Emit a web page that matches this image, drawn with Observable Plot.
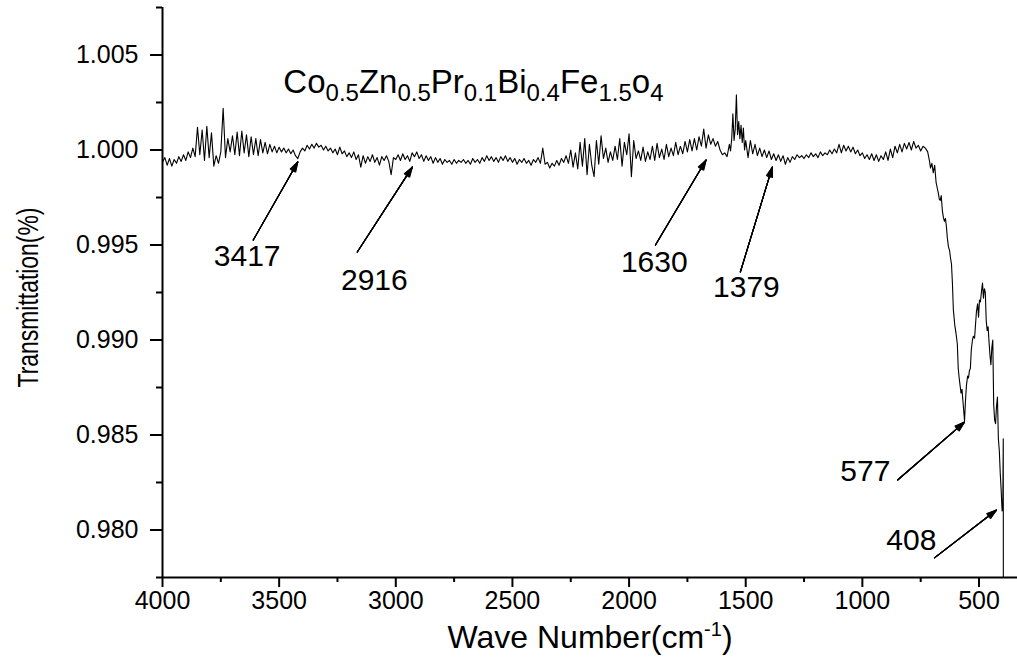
<!DOCTYPE html>
<html><head><meta charset="utf-8">
<script src="https://cdn.jsdelivr.net/npm/d3@7"></script>
<script src="https://cdn.jsdelivr.net/npm/@observablehq/plot@0.6"></script>
<style>body{margin:0;background:#fff}#chart svg{display:block}</style>
</head><body><div id="chart"></div>
<script>
// Wave numbers (cm^-1) and transmittance
const waveNumbers = [
 4000,3990,3980,3970,3960,3950,3940,3930,3920,3910,3900,3890,3880,
 3870,3860,3850,3840,3830,3820,3810,3800,3790,3780,3770,3760,3750,3740,3730,3720,3710,3700,
 3690,3680,3670,3660,3650,3640,3630,3620,3610,3600,3590,3580,3570,3560,3550,3540,3530,3520,3510,3500,
 3490,3480,3470,3460,3450,3440,3430,3420,3410,3400,3390,3380,3370,3360,3350,3340,3330,3320,3310,3300,
 3290,3280,3270,3260,3250,3240,3230,3220,3210,3200,3190,3180,3170,3160,3150,3140,3130,3120,3110,3100,
 3090,3080,3070,3060,3050,3040,3030,3020,3010,3000,
 2990,2980,2970,2960,2950,2940,2930,2920,2910,2900,2890,2880,2870,2860,2850,2840,2830,2820,2810,2800,
 2790,2780,2770,2760,2750,2740,2730,2720,2710,2700,
 2690,2680,2670,2660,2650,2640,2630,2620,2610,2600,2590,2580,2570,2560,2550,2540,2530,2520,2510,2500,
 2490,2480,2470,2460,2450,2440,2430,2420,2410,2400,2390,2380,2370,2360,2350,2340,2330,2320,2310,2300,
 2290,2280,2270,2260,2250,
 2240,2230,2220,2210,2200,2190,2180,2170,2160,2150,2140,2130,2120,2110,2100,2090,2080,2070,2060,2050,
 2040,2030,2020,2010,2000,1990,1980,1970,1960,1950,1940,1930,1920,1910,1900,1890,1880,1870,1860,1850,
 1840,1830,1820,1810,1800,1790,1780,1770,1760,1750,1740,1730,1720,1710,1700,1690,1680,1670,1660,1650,
 1640,1630,1620,1610,1600,1590,1580,
 1570,1565,1560,1555,1550,1545,1540,1535,1530,1525,1520,1515,1510,1505,1500,
 1490,1480,1470,1460,1450,1440,1430,1420,1410,1400,1390,1380,1370,1360,1350,1340,1330,1320,1310,1300,
 1290,1280,1270,1260,1250,1240,1230,1220,1210,1200,1190,1180,1170,1160,1150,1140,1130,1120,1110,1100,
 1090,1080,1070,1060,1050,1040,1030,1020,1010,1000,990,980,970,960,950,940,930,920,910,900,
 890,880,870,860,850,840,830,820,810,800,790,780,770,760,750,740,730,
 720,712,708,702,696,690,684,679,674,670,666,662,657,652,648,644,640,636,631,626,
 622,618,614,610,604,598,593,589,585,581,577,573,569,565,562,558,554,549,545,541,
 537,533,528,524,519,515,511,506,502,498,494,489,485,481,477,473,469,465,461,457,
 453,449,445,441,437,433,429,425,421,417,413,409,405,401,398,396,395
];
const transmittance = [
 0.99935,0.99960,0.99920,0.99955,0.99915,0.99950,0.99930,0.99965,0.99940,0.99975,0.99945,0.99990,0.99960,
 1.00010,0.99965,1.00120,0.99975,1.00105,0.99945,1.00125,0.99960,1.00090,0.99915,0.99970,0.99930,0.99990,1.00220,0.99960,1.00060,0.99990,1.00075,
 0.99975,1.00095,0.99970,1.00100,0.99985,1.00080,0.99965,1.00070,0.99975,1.00060,0.99970,1.00055,0.99985,1.00040,0.99980,1.00030,0.99990,1.00020,0.99985,1.00015,
 0.99990,1.00010,0.99985,1.00005,0.99980,1.00000,0.99970,0.99955,0.99990,1.00010,0.99995,1.00025,1.00005,1.00030,1.00010,1.00035,1.00015,1.00025,1.00000,1.00020,
 0.99995,1.00010,0.99985,1.00005,0.99975,1.00015,0.99980,0.99995,0.99965,0.99985,0.99960,0.99990,0.99950,0.99975,0.99910,0.99970,0.99930,0.99965,0.99940,0.99975,
 0.99935,0.99960,0.99920,0.99965,0.99945,0.99970,0.99940,0.99870,0.99960,0.99950,
 0.99975,0.99945,0.99980,0.99950,0.99970,0.99940,0.99985,0.99965,0.99990,0.99955,0.99975,0.99940,0.99970,0.99945,0.99965,0.99930,0.99960,0.99935,0.99955,0.99925,
 0.99950,0.99935,0.99945,0.99925,0.99950,0.99930,0.99945,0.99935,0.99950,0.99930,
 0.99945,0.99925,0.99955,0.99935,0.99950,0.99930,0.99960,0.99940,0.99970,0.99945,0.99965,0.99940,0.99960,0.99935,0.99965,0.99945,0.99970,0.99940,0.99960,0.99935,
 0.99955,0.99925,0.99950,0.99935,0.99955,0.99930,0.99945,0.99920,0.99950,0.99935,0.99960,0.99930,1.00010,0.99925,0.99935,0.99905,0.99930,0.99915,0.99945,0.99920,
 0.99955,0.99935,0.99970,0.99930,1.00000,
 0.99910,0.99985,0.99900,1.00040,0.99915,1.00060,0.99870,1.00030,0.99920,0.99860,1.00050,0.99925,1.00075,0.99955,1.00010,0.99935,0.99990,0.99945,1.00020,0.99950,
 1.00060,0.99915,1.00040,0.99975,1.00085,0.99860,1.00050,0.99955,0.99995,0.99945,1.00015,0.99940,0.99990,0.99950,1.00020,0.99945,1.00035,0.99960,1.00005,0.99950,
 1.00030,0.99965,1.00010,0.99970,1.00040,0.99975,1.00020,0.99980,1.00045,0.99990,1.00055,0.99995,1.00060,1.00000,1.00070,1.00020,1.00110,1.00010,1.00080,1.00030,
 1.00060,1.00020,1.00045,1.00000,0.99975,0.99985,0.99965,
 1.00030,0.99995,1.00060,1.00190,1.00050,1.00110,1.00290,1.00080,1.00150,1.00060,1.00130,1.00040,1.00115,1.00000,1.00050,
 0.99960,1.00050,0.99980,1.00030,0.99970,1.00010,0.99965,1.00000,0.99960,0.99995,0.99950,0.99980,0.99945,0.99975,0.99940,0.99970,0.99925,0.99960,0.99935,0.99965,
 0.99950,0.99975,0.99960,0.99970,0.99955,0.99975,0.99960,0.99985,0.99965,0.99980,0.99960,0.99990,0.99970,0.99985,0.99975,1.00000,0.99980,1.00005,0.99985,1.00030,
 0.99985,1.00025,0.99995,1.00020,0.99990,1.00015,0.99980,1.00000,0.99970,0.99985,0.99955,0.99975,0.99950,0.99980,0.99945,0.99975,0.99940,0.99970,0.99950,0.99990,
 0.99945,1.00005,0.99960,1.00020,0.99985,1.00030,0.99990,1.00035,1.00005,1.00040,1.00000,1.00045,1.00010,1.00025,0.99995,1.00020,1.00010,
 0.99990,0.99940,0.99905,0.99930,0.99880,0.99920,0.99830,0.99800,0.99770,0.99740,0.99735,0.99760,0.99680,0.99640,0.99625,0.99640,0.99600,0.99540,0.99490,0.99470,
 0.99430,0.99400,0.99300,0.99160,0.99080,0.99030,0.98980,0.98850,0.98800,0.98760,0.98720,0.98740,0.98680,0.98620,0.98575,0.98680,0.98760,0.98810,0.98800,0.98840,
 0.98850,0.98950,0.99000,0.99020,0.99010,0.99080,0.99150,0.99190,0.99120,0.99210,0.99200,0.99260,0.99300,0.99220,0.99270,0.99250,0.99100,0.99050,0.99070,0.98990,
 0.98920,0.98870,0.98960,0.99000,0.98660,0.98580,0.98560,0.98650,0.98700,0.98480,0.98420,0.98300,0.98210,0.98100,0.98140,0.98480,0.96000
];

// Axes
const xDomain = [4000, 335];
const yDomain = [0.9775, 1.0075];
const xTicks = [4000, 3500, 3000, 2500, 2000, 1500, 1000, 500];
const xMinorTicks = [3750, 3250, 2750, 2250, 1750, 1250, 750];
const yTicks = [0.980, 0.985, 0.990, 0.995, 1.000, 1.005];
const yMinorTicks = [0.9775, 0.9825, 0.9875, 0.9925, 0.9975, 1.0025, 1.0075];
const xLabelMain = "Wave Number(cm";
const xLabelSup = "-1";
const xLabelEnd = ")";
const yLabel = "Transmittation(%)";

// Title (chemical formula: main parts and subscripts)
const titleMain = ["Co", "Zn", "Pr", "Bi", "Fe", "o"];
const titleSub = ["0.5", "0.5", "0.1", "0.4", "1.5", "4"];
const titleAt = {x: 3482, y: 1.00353};

// Peak annotations (label, arrow tip, arrow tail, label centre) in data units
const peakLabels = ["3417", "2916", "1630", "1379", "577", "408"];
const peakTipX = [3420, 2929, 1670, 1386, 562, 425];
const peakTipY = [0.99937, 0.99910, 0.99947, 0.99910, 0.98568, 0.98105];
const peakTailX = [3611, 3165, 1887, 1523, 849, 691];
const peakTailY = [0.99526, 0.99463, 0.99500, 0.99358, 0.98263, 0.97853];
const peakLabelX = [3637, 3092, 1892, 1497, 987, 790];
const peakLabelY = [0.99442, 0.99316, 0.99411, 0.99279, 0.98311, 0.97947];

const spectrum = waveNumbers.map((w, i) => ({w, t: transmittance[i]}));
const peaks = peakLabels.map((label, i) => ({
  label, x1: peakTailX[i], y1: peakTailY[i], x2: peakTipX[i], y2: peakTipY[i],
  lx: peakLabelX[i], ly: peakLabelY[i]
}));

const FONT = "Liberation Sans, Arial, Helvetica, sans-serif";
const headAngles = [6, 14, 22, 30, 36];
const titleText = titleMain.map((m, i) => m + titleSub[i]).join("");
const xLabelText = xLabelMain + xLabelSup + xLabelEnd;

const plot = Plot.plot({
  width: 1017,
  height: 663,
  marginLeft: 162,
  marginRight: 0,
  marginTop: 7,
  marginBottom: 86,
  style: {fontFamily: FONT, background: "#fff", color: "#000"},
  x: {domain: xDomain},
  y: {domain: yDomain},
  marks: [
    Plot.line(spectrum, {x: "w", y: "t", stroke: "#000", strokeWidth: 1.1, clip: true}),
    ...headAngles.map(a => Plot.arrow(peaks, {
      x1: "x1", y1: "y1", x2: "x2", y2: "y2",
      headLength: 14, headAngle: a, stroke: "#000", strokeWidth: 1.1
    })),
    Plot.text(peaks, {x: "lx", y: "ly", text: "label", fontSize: 30, fill: "#000"}),
    Plot.text([titleText], {x: () => titleAt.x, y: () => titleAt.y, text: d => d,
      textAnchor: "start", fontSize: 33, fill: "#000"}),
    Plot.axisX(xTicks, {tickSize: 10, tickPadding: 4, fontSize: 25, strokeWidth: 2,
      tickFormat: d => String(d), label: null}),
    Plot.axisX(xMinorTicks, {tickSize: 5, strokeWidth: 2, tickFormat: () => "", label: null}),
    Plot.axisY(yTicks, {tickSize: 12, tickPadding: 12, fontSize: 25, strokeWidth: 2,
      tickFormat: d3.format(".3f"), label: null}),
    Plot.axisY(yMinorTicks, {tickSize: 6, strokeWidth: 2, tickFormat: () => "", label: null}),
    Plot.ruleY([yDomain[0]], {stroke: "#000", strokeWidth: 2}),
    Plot.ruleX([xDomain[0]], {stroke: "#000", strokeWidth: 2}),
    Plot.text([xLabelText], {frameAnchor: "bottom", dy: 70, text: d => d, fontSize: 32,
      textAnchor: "middle", fill: "#000"}),
    Plot.text([yLabel], {frameAnchor: "left", dx: -134, dy: 5, rotate: -90, text: d => d, fontSize: 30,
      textAnchor: "middle", fill: "#000"})
  ]
});

function findText(svg, content) {
  return [...svg.querySelectorAll("text")].find(e => e.textContent === content);
}
function richText(svg, content, parts, baseSize, smallSize) {
  const t = findText(svg, content);
  if (!t) return;
  t.textContent = "";
  let cur = 0;
  for (const [s, shift] of parts) {
    const ts = document.createElementNS("http://www.w3.org/2000/svg", "tspan");
    ts.setAttribute("dy", shift - cur);
    cur = shift;
    ts.setAttribute("font-size", shift ? smallSize : baseSize);
    ts.textContent = s;
    t.appendChild(ts);
  }
}
const titleParts = [];
titleMain.forEach((m, i) => { titleParts.push([m, 0]); titleParts.push([titleSub[i], 8]); });
richText(plot, titleText, titleParts, 33, 24);
richText(plot, xLabelText, [[xLabelMain, 0], [xLabelSup, -12], [xLabelEnd, 0]], 32, 20);
// condensed look of the vertical axis title
const yl = findText(plot, yLabel);
if (yl) { yl.setAttribute("textLength", 180); yl.setAttribute("lengthAdjust", "spacingAndGlyphs"); }

document.getElementById("chart").appendChild(plot);
</script>
</body></html>
